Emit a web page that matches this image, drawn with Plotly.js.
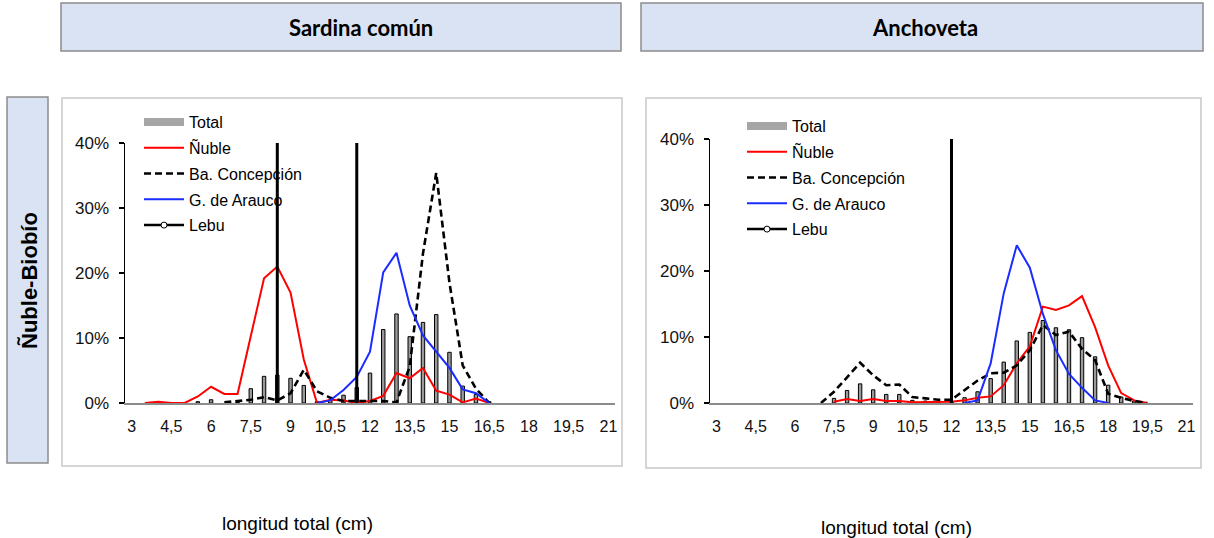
<!DOCTYPE html>
<html>
<head>
<meta charset="utf-8">
<script src="https://cdn.plot.ly/plotly-3.0.1.min.js"></script>
<style>html,body{margin:0;padding:0;background:#fff;}#chart{width:1214px;height:538px;}</style>
</head>
<body>
<div id="chart"></div>
<script>
// ---- Data (percent of catch by length class, cm) ----
const lengths = [3,3.5,4,4.5,5,5.5,6,6.5,7,7.5,8,8.5,9,9.5,10,10.5,11,11.5,12,12.5,13,13.5,14,14.5,15,15.5,16,16.5,17,17.5,18,18.5,19,19.5,20,20.5,21];

const tickVals = [3,4.5,6,7.5,9,10.5,12,13.5,15,16.5,18,19.5,21];
const tickText = ['3','4,5','6','7,5','9','10,5','12','13,5','15','16,5','18','19,5','21'];

const seriesNames = ['Total','Ñuble','Ba. Concepción','G. de Arauco','Lebu'];
const panelTitles = ['Sardina común','Anchoveta'];
const rowTitle = 'Ñuble-Biobío';
const xTitle = 'longitud total (cm)';

// Sardina común
const sardTotal   = [null,null,null,null,null,0.2,0.5,null,0.1,2.2,4.1,4.3,3.8,2.7,0.2,0.4,1.2,2.4,4.6,11.3,13.7,10.2,12.4,13.6,7.8,2.6,1.3,0.2,null,null,null,null,null,null,null,null,null];
const sardNuble   = [null,0,0.2,0,0,1.0,2.5,1.4,1.4,10.3,19.2,21.0,17.0,6.7,0,0.5,0.4,0,0.3,1.1,4.6,3.8,5.4,1.9,1.3,0.1,0.7,0,null,null,null,null,null,null,null,null,null];
const sardConcep  = [null,null,null,null,null,null,null,0.1,0.3,0.5,0.9,0.4,1.5,5.1,1.8,0.8,0.3,0.3,0.4,0.3,0.1,5.6,23.0,35.4,18.5,5.8,2.2,0,null,null,null,null,null,null,null,null,null];
const sardArauco  = [null,null,null,null,null,null,null,null,null,null,null,null,null,null,0,0.4,2.0,4.0,7.9,20.1,23.1,15.0,10.4,7.9,5.4,2.1,1.5,0,null,null,null,null,null,null,null,null,null];
const sardLebu    = [null,null,null,null,null,null,null,null,null,null,null,50,null,null,null,null,null,50,null,null,null,null,null,null,null,null,null,null,null,null,null,null,null,null,null,null,null];

// Anchoveta
const anchTotal   = [null,null,null,null,null,null,null,null,null,0.7,1.9,2.9,2.0,1.3,1.3,0.4,0.3,0.2,0.2,0.8,1.7,3.7,6.2,9.4,10.7,12.5,11.4,11.1,9.9,7.0,2.7,0.9,0.3,null,null,null,null];
const anchNuble   = [null,null,null,null,null,null,null,null,null,0.2,0.6,0.3,0.6,0.3,0.3,0.1,0.1,0.1,0.2,0.4,0.8,1.0,2.7,6.0,8.6,14.6,14.1,14.8,16.2,11.5,5.7,1.5,0.4,0,null,null,null];
const anchConcep  = [null,null,null,null,null,null,null,null,0,1.7,3.9,6.1,4.2,2.7,2.8,0.9,0.7,0.5,0.5,1.9,3.4,4.5,4.6,5.7,8.0,11.8,10.3,10.8,8.2,6.5,1.4,0.8,0.3,0,null,null,null];
const anchArauco  = [null,null,null,null,null,null,null,null,null,null,null,null,null,null,null,null,null,null,null,0,0.4,6.0,16.6,23.9,20.5,13.5,8.0,4.4,2.3,0.4,0,null,null,null,null,null,null];
const anchLebu    = [null,null,null,null,null,null,null,null,null,null,null,null,null,null,null,null,null,null,100,null,null,null,null,null,null,null,null,null,null,null,null,null,null,null,null,null,null];

// ---- Helpers ----
const W = 1214, H = 538;
const px = v => v / W;
const py = v => 1 - v / H;
const FONT = 'Liberation Sans, Arial, sans-serif';

function stems(vals) {
  const xs = [], ys = [];
  vals.forEach((v, i) => { if (v !== null) { xs.push(lengths[i], lengths[i], null); ys.push(0, v, null); } });
  return {x: xs, y: ys};
}

function panelTraces(total, nuble, concep, arauco, lebu, xa, ya, leg) {
  const st = stems(lebu);
  return [
    {type: 'bar', x: lengths, y: total, xaxis: xa, yaxis: ya, width: 0.13,
     marker: {color: '#9a9a9a', line: {color: '#000', width: 1}}, showlegend: false, hoverinfo: 'skip'},
    {type: 'scatter', mode: 'lines', x: [null], y: [null], xaxis: xa, yaxis: ya, name: seriesNames[0],
     legend: leg, legendgroup: 'g0', line: {color: '#a6a6a6', width: 8}},
    {type: 'scatter', mode: 'lines', x: lengths, y: nuble, xaxis: xa, yaxis: ya, name: seriesNames[1],
     legend: leg, legendgroup: 'g1', line: {color: '#ff0000', width: 2}},
    {type: 'scatter', mode: 'lines', x: lengths, y: concep, xaxis: xa, yaxis: ya, name: seriesNames[2],
     legend: leg, legendgroup: 'g2', line: {color: '#000', width: 2.6, dash: '7px,4px'}},
    {type: 'scatter', mode: 'lines', x: lengths, y: arauco, xaxis: xa, yaxis: ya, name: seriesNames[3],
     legend: leg, legendgroup: 'g3', line: {color: '#1a2cff', width: 2}},
    {type: 'scatter', mode: 'lines', x: st.x, y: st.y, xaxis: xa, yaxis: ya, showlegend: false,
     line: {color: '#000', width: 3}, hoverinfo: 'skip'},
    {type: 'scatter', mode: 'lines+markers', x: [null], y: [null], xaxis: xa, yaxis: ya, name: seriesNames[4],
     legend: leg, legendgroup: 'g4', line: {color: '#000', width: 2.5},
     marker: {symbol: 'circle', size: 6, color: '#fff', line: {color: '#000', width: 1}}}
  ];
}

const traces = [].concat(
  panelTraces(sardTotal, sardNuble, sardConcep, sardArauco, sardLebu, 'x', 'y', 'legend'),
  panelTraces(anchTotal, anchNuble, anchConcep, anchArauco, anchLebu, 'x2', 'y2', 'legend2')
);

function xAxis(d0, d1, anchor) {
  return {domain: [px(d0), px(d1)], anchor: anchor, range: [2.75, 21.25], tickvals: tickVals, ticktext: tickText,
    showline: true, linecolor: '#8c8c8c', linewidth: 1.5, ticks: '', showgrid: false, zeroline: false,
    ticklabelstandoff: 8, tickfont: {family: FONT, size: 16, color: '#111'}, fixedrange: true};
}
function yAxis(top, bottom, anchor) {
  return {domain: [py(bottom), py(top)], anchor: anchor, range: [0, 40], dtick: 10, ticksuffix: '%',
    showline: true, linecolor: '#000', linewidth: 1.5, ticks: 'outside', ticklen: 5, tickcolor: '#000', tickwidth: 1.2,
    showgrid: false, zeroline: false, ticklabelstandoff: 6, tickfont: {family: FONT, size: 17, color: '#111'}, fixedrange: true};
}

const boxShape = (x0, x1, y0, y1, fill, lc) => ({type: 'rect', xref: 'paper', yref: 'paper',
  x0: px(x0), x1: px(x1), y0: py(y1), y1: py(y0), fillcolor: fill, line: {color: lc, width: 1.5}, layer: 'below'});

const legendStyle = (x, y) => ({x: px(x), y: py(y), xanchor: 'left', yanchor: 'top', bgcolor: 'rgba(0,0,0,0)',
  borderwidth: 0, itemwidth: 40, tracegroupgap: 2, font: {family: FONT, size: 16, color: '#000'}, itemclick: false});

const ann = (x, y, text, font, extra) => Object.assign({xref: 'paper', yref: 'paper', x: px(x), y: py(y), text: text,
  showarrow: false, xanchor: 'center', yanchor: 'middle', font: font}, extra || {});

const layout = {
  width: W, height: H, margin: {l: 0, r: 0, t: 0, b: 0}, paper_bgcolor: '#fff', plot_bgcolor: 'rgba(0,0,0,0)',
  showlegend: true, barmode: 'overlay',
  xaxis: xAxis(125, 615, 'y'), yaxis: yAxis(143, 403, 'x'),
  xaxis2: xAxis(710, 1193, 'y2'), yaxis2: yAxis(139, 403, 'x2'),
  legend: legendStyle(139, 105),
  legend2: legendStyle(742, 109),
  shapes: [
    boxShape(61, 621, 3, 51, '#dae3f3', '#8c8c8c'),
    boxShape(641, 1203, 3, 51, '#dae3f3', '#8c8c8c'),
    boxShape(7, 48, 97, 463, '#dae3f3', '#8c8c8c'),
    boxShape(62, 622, 98, 466, 'rgba(0,0,0,0)', '#c8c8c8'),
    boxShape(646, 1201, 98, 468, 'rgba(0,0,0,0)', '#c8c8c8')
  ],
  annotations: [
    ann(361, 28, '<b>' + panelTitles[0] + '</b>', {family: 'Lato, Open Sans, sans-serif', size: 22, color: '#000'}),
    ann(925, 28, '<b>' + panelTitles[1] + '</b>', {family: 'Lato, Open Sans, sans-serif', size: 22, color: '#000'}),
    ann(29, 281, '<b>' + rowTitle + '</b>', {family: FONT, size: 22, color: '#000'}, {textangle: -90}),
    ann(297, 523, xTitle, {family: FONT, size: 19, color: '#000'}),
    ann(896, 527, xTitle, {family: FONT, size: 19, color: '#000'})
  ]
};

Plotly.newPlot('chart', traces, layout, {displayModeBar: false, staticPlot: true});
</script>
</body>
</html>
